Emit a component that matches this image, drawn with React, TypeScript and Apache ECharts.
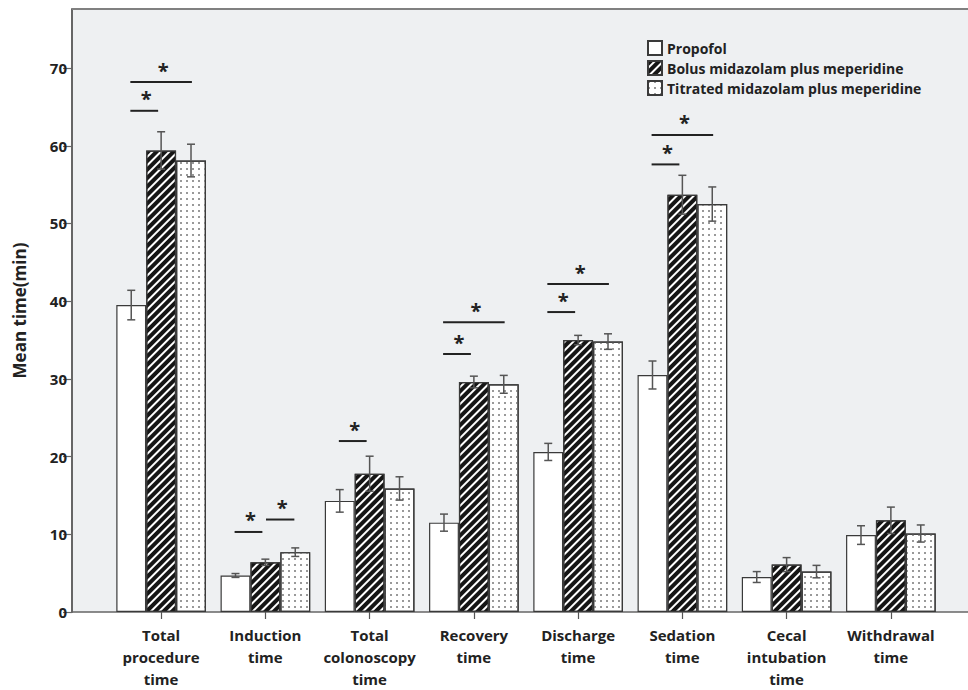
import React, { useEffect, useRef } from 'react';
import * as echarts from 'echarts';

const categories = [
  'Total\nprocedure\ntime',
  'Induction\ntime',
  'Total\ncolonoscopy\ntime',
  'Recovery\ntime',
  'Discharge\ntime',
  'Sedation\ntime',
  'Cecal\nintubation\ntime',
  'Withdrawal\ntime',
];
const seriesNames = ['Propofol', 'Bolus midazolam plus meperidine', 'Titrated midazolam plus meperidine'];
const propofolMean = [39.5, 4.7, 14.3, 11.5, 20.6, 30.5, 4.5, 9.9];
const propofolErr = [1.9, 0.25, 1.45, 1.1, 1.1, 1.8, 0.7, 1.2];
const bolusMean = [59.4, 6.4, 17.8, 29.6, 35.0, 53.7, 6.1, 11.8];
const bolusErr = [2.4, 0.4, 2.25, 0.75, 0.6, 2.5, 0.9, 1.7];
const titratedMean = [58.1, 7.7, 15.9, 29.3, 34.8, 52.5, 5.2, 10.1];
const titratedErr = [2.1, 0.55, 1.5, 1.15, 1.0, 2.2, 0.8, 1.1];
const yTickStep = 10;
const yMax = 77.6;

// significance markers: category index, group A, group B, level (min)
const sigCategory = [0, 0, 1, 1, 2, 3, 3, 4, 4, 5, 5];
const sigFrom = [0, 0, 0, 1, 0, 0, 0, 0, 0, 0, 0];
const sigTo = [1, 2, 1, 2, 1, 1, 2, 1, 2, 1, 2];
const sigLevel = [64.5, 68.2, 10.3, 11.9, 22.0, 33.2, 37.3, 38.6, 42.2, 57.6, 61.4];

const FONT = "'Open Sans', 'Noto Sans', sans-serif";
const CAT_GAP = 0.14;

export default function App() {
  const ref = useRef<HTMLDivElement>(null);
  useEffect(() => {
    document.body.style.margin = '0';
    const chart = echarts.init(ref.current!, null, { renderer: 'svg' });
    const means = [propofolMean, bolusMean, titratedMean];
    const errs = [propofolErr, bolusErr, titratedErr];
    const errData: number[][] = [];
    means.forEach((arr, g) => arr.forEach((m, i) => errData.push([i, g, m, errs[g][i]])));
    const sigData = sigCategory.map((c, k) => [c, sigFrom[k], sigTo[k], sigLevel[k]]);

    const barBase = { color: '#ffffff', borderColor: '#3a3a3a', borderWidth: 1.2 };
    const decals = [
      undefined,
      {
        symbol: 'rect', symbolSize: 1, dashArrayX: [1, 0], dashArrayY: [3.4, 2],
        rotation: -Math.PI / 4, color: '#151515', backgroundColor: '#ffffff',
      },
      {
        symbol: 'rect', symbolSize: 1, dashArrayX: [1.3, 3.5], dashArrayY: [1.3, 3.5],
        color: '#999999', backgroundColor: '#ffffff',
      },
    ];

    const option: any = {
      animation: false,
      backgroundColor: '#ffffff',
      grid: [
        { left: 72, right: 0, top: 9, bottom: 78, show: true, backgroundColor: '#eef0f2', borderWidth: 0 },
        { left: 109, right: 25, top: 9, bottom: 78 },
      ],
      legend: {
        data: seriesNames,
        orient: 'vertical', left: 647, top: 40, padding: 0,
        itemWidth: 14, itemHeight: 14, itemGap: 4, icon: 'rect',
        textStyle: { fontFamily: FONT, fontWeight: 'bold', fontSize: 14, color: '#222', padding: [0, 0, 0, 0] },
      },
      xAxis: [
        {
          gridIndex: 0, type: 'value', min: 0, max: 1,
          axisLine: { show: true, lineStyle: { color: '#666', width: 1.5 } },
          axisTick: { show: false }, axisLabel: { show: false }, splitLine: { show: false },
        },
        {
          gridIndex: 1, type: 'category', data: categories,
          axisLine: { show: false },
          axisTick: { show: true, alignWithLabel: true, length: 7, lineStyle: { color: '#555', width: 1.2 } },
          axisLabel: {
            interval: 0, margin: 12, fontFamily: FONT, fontWeight: 'bold', fontSize: 15,
            lineHeight: 22, color: '#222',
          },
        },
      ],
      yAxis: [
        {
          gridIndex: 0, type: 'value', min: 0, max: yMax, interval: yTickStep,
          name: 'Mean time(min)', nameLocation: 'middle', nameGap: 44,
          nameTextStyle: { fontFamily: FONT, fontWeight: 'bold', fontSize: 17, color: '#222' },
          axisLine: { show: true, lineStyle: { color: '#666', width: 2 } },
          axisTick: { show: true, length: 9, lineStyle: { color: '#666', width: 1.2 } },
          axisLabel: { showMaxLabel: false, margin: 5, fontFamily: FONT, fontWeight: 'bold', fontSize: 15, color: '#222' },
          splitLine: { show: false },
        },
        { gridIndex: 1, type: 'value', min: 0, max: yMax, show: false, splitLine: { show: false } },
      ],
      graphic: [
        { type: 'line', shape: { x1: 72, y1: 9, x2: 968, y2: 9 }, style: { stroke: '#808080', lineWidth: 2 }, z: 10 },
      ],
      series: [
        ...seriesNames.map((name, g) => ({
          type: 'bar', name, xAxisIndex: 1, yAxisIndex: 1,
          data: means[g], barGap: '0%', barCategoryGap: CAT_GAP * 100 + '%',
          itemStyle: decals[g] ? { ...barBase, decal: decals[g] } : barBase,
        })),
        {
          type: 'custom', name: 'err', xAxisIndex: 1, yAxisIndex: 1, z: 5,
          data: errData, encode: { x: 0, y: 2 },
          renderItem: (params: any, api: any) => {
            const cat = api.value(0), g = api.value(1), m = api.value(2), e = api.value(3);
            const band = api.size([1, 0])[0];
            const bw = band * (1 - CAT_GAP) / 3;
            const x = api.coord([cat, m])[0] + (g - 1) * bw;
            const top = api.coord([cat, m + e])[1];
            const bot = api.coord([cat, m - e])[1];
            const st = { stroke: '#555', lineWidth: 1.5 };
            const cap = 4;
            return {
              type: 'group',
              children: [
                { type: 'line', shape: { x1: x, y1: top, x2: x, y2: bot }, style: st },
                { type: 'line', shape: { x1: x - cap, y1: top, x2: x + cap, y2: top }, style: st },
                { type: 'line', shape: { x1: x - cap, y1: bot, x2: x + cap, y2: bot }, style: st },
              ],
            };
          },
        },
        {
          type: 'custom', name: 'sig', xAxisIndex: 1, yAxisIndex: 1, z: 5,
          data: sigData, encode: { x: 0, y: 3 },
          renderItem: (params: any, api: any) => {
            const cat = api.value(0), a = api.value(1), b = api.value(2), lv = api.value(3);
            const band = api.size([1, 0])[0];
            const bw = band * (1 - CAT_GAP) / 3;
            const c = api.coord([cat, lv]);
            let l: number, r: number;
            if (a === 0 && b === 1) { l = -1.03; r = -0.1; }
            else if (a === 0 && b === 2) { l = -1.03; r = 1.03; }
            else { l = 0.02; r = 0.97; }
            const x1 = c[0] + l * bw, x2 = c[0] + r * bw, y = c[1];
            return {
              type: 'group',
              children: [
                { type: 'line', shape: { x1, y1: y, x2, y2: y }, style: { stroke: '#222', lineWidth: 2 } },
                {
                  type: 'text', x: (x1 + x2) / 2 + 2, y: y - 2,
                  style: { text: '*', fill: '#222', font: `bold 20px ${FONT}`, textAlign: 'center', textVerticalAlign: 'bottom' },
                },
              ],
            };
          },
        },
      ],
    };
    chart.setOption(option);
    return () => chart.dispose();
  }, []);
  return <div ref={ref} style={{ width: 968, height: 690 }} />;
}
